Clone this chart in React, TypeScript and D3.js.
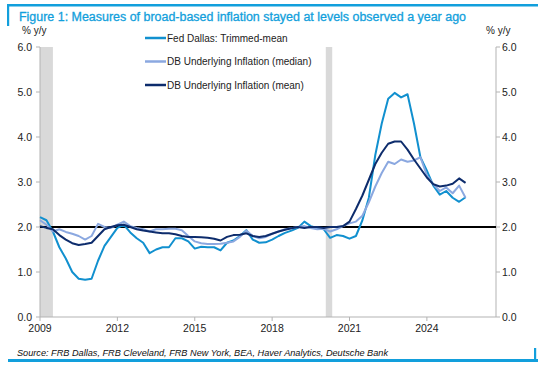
import React from 'react';
import * as d3 from 'd3';

// quarterly observation dates (decimal years)
const dates: number[] = d3.range(2009, 2025.51, 0.25);

// Fed Dallas trimmed-mean PCE, % y/y
const trimmedMean = [
  2.22, 2.15, 1.9, 1.55, 1.3, 1.0, 0.85, 0.83, 0.85, 1.25, 1.58, 1.78,
  1.98, 2.05, 1.88, 1.75, 1.65, 1.42, 1.5, 1.55, 1.55, 1.75, 1.75, 1.68,
  1.52, 1.56, 1.55, 1.55, 1.48, 1.65, 1.7, 1.8, 1.93, 1.72, 1.65, 1.66,
  1.72, 1.8, 1.87, 1.92, 1.98, 2.12, 2.02, 1.98, 1.95, 1.76, 1.82, 1.8,
  1.74, 1.8, 2.15, 2.65, 3.6, 4.3, 4.85, 4.98, 4.88, 4.95, 4.3, 3.55,
  3.25, 2.92, 2.72, 2.8, 2.65, 2.56, 2.66,
];

// DB underlying inflation (median)
const dbMedian = [
  2.15, 2.05, 1.9, 1.95, 1.89, 1.85, 1.8, 1.72, 1.8, 2.07, 2.0, 1.98,
  2.05, 2.12, 2.02, 1.98, 1.95, 1.9, 1.95, 1.95, 1.96, 1.96, 1.93, 1.8,
  1.68, 1.64, 1.62, 1.62, 1.63, 1.65, 1.68, 1.78, 1.92, 1.8, 1.75, 1.78,
  1.85, 1.9, 1.95, 1.97, 2.0, 2.02, 1.98, 1.95, 1.96, 1.9, 1.95, 2.02,
  2.08, 2.12, 2.25, 2.55, 2.9, 3.2, 3.45, 3.4, 3.5, 3.45, 3.48, 3.55,
  3.15, 2.95, 2.8, 2.88, 2.75, 2.92, 2.65,
];

// DB underlying inflation (mean)
const dbMean = [
  2.02, 1.98, 1.95, 1.82, 1.72, 1.64, 1.6, 1.62, 1.65, 1.8, 1.95, 2.0,
  2.04, 2.05, 2.0, 1.95, 1.92, 1.9, 1.88, 1.86, 1.86, 1.84, 1.8, 1.78,
  1.78, 1.77, 1.76, 1.74, 1.7, 1.78, 1.82, 1.83, 1.86, 1.8, 1.78, 1.8,
  1.85, 1.9, 1.94, 1.97, 2.0, 1.98, 2.0, 2.0, 1.98, 2.0, 2.0, 2.02,
  2.12, 2.4, 2.7, 3.05, 3.4, 3.65, 3.85, 3.9, 3.9, 3.72, 3.5, 3.3,
  3.1, 2.95, 2.9, 2.92, 2.96, 3.08, 2.98,
];

const series = [
  { name: 'Fed Dallas: Trimmed-mean', values: trimmedMean, color: '#1190cf' },
  { name: 'DB Underlying Inflation (median)', values: dbMedian, color: '#8ba8e0' },
  { name: 'DB Underlying Inflation (mean)', values: dbMean, color: '#0d2c6c' },
];

const recessions: [number, number][] = [
  [2009.0, 2009.5],
  [2020.08, 2020.33],
];

const yTicks = [0, 1, 2, 3, 4, 5, 6];
const xTicks = [2009, 2012, 2015, 2018, 2021, 2024];

const title = 'Figure 1: Measures of broad-based inflation stayed at levels observed a year ago';
const source = 'Source: FRB Dallas, FRB Cleveland, FRB New York, BEA, Haver Analytics, Deutsche Bank';

const W = 538;
const H = 365;
const font = 'Liberation Sans, Arial, sans-serif';

export default function App() {
  const left = 40;
  const right = 496;
  const top = 47;
  const bottom = 317;

  const x = d3.scaleLinear().domain([2009, 2026.68]).range([left, right]);
  const y = d3.scaleLinear().domain([0, 6]).range([bottom, top]);

  const line = d3
    .line<number>()
    .x((_, i) => x(dates[i]))
    .y((d) => y(d));

  const blue = '#129fdc';

  return (
    <svg
      width={W}
      height={H}
      style={{ position: 'absolute', left: 0, top: 0, background: '#fff' }}
      fontFamily={font}
    >
      {/* frame accents */}
      <rect x={7} y={4} width={W - 7} height={2.5} fill={blue} />
      <rect x={7} y={4} width={2.2} height={22} fill={blue} />
      <rect x={8} y={359} width={W - 8} height={3} fill={blue} />
      <rect x={534} y={348} width={2.2} height={14} fill={blue} />

      <text
        x={19}
        y={21}
        fontSize={12}
        fill={blue}
        stroke={blue}
        strokeWidth={0.3}
        textLength={447}
        lengthAdjust="spacingAndGlyphs"
      >
        {title}
      </text>

      <text x={22} y={34} fontSize={10} fill="#222">% y/y</text>
      <text x={486} y={34} fontSize={10} fill="#222">% y/y</text>

      {/* recession shading */}
      {recessions.map(([a, b], i) => (
        <rect key={i} x={x(a)} y={y(6)} width={x(b) - x(a)} height={y(0) - y(6)} fill="#d9d9d9" />
      ))}

      {/* axes */}
      <line x1={left} x2={left} y1={y(6)} y2={y(0)} stroke="#b3b3b3" />
      <line x1={right} x2={right} y1={y(6)} y2={y(0)} stroke="#b3b3b3" />
      <line x1={left} x2={right} y1={y(0)} y2={y(0)} stroke="#b3b3b3" />
      {yTicks.map((t) => (
        <g key={t}>
          <line x1={left - 4} x2={left} y1={y(t)} y2={y(t)} stroke="#b3b3b3" />
          <line x1={right} x2={right + 4} y1={y(t)} y2={y(t)} stroke="#b3b3b3" />
          <text x={32} y={y(t) + 3.6} fontSize={10.5} textAnchor="end" fill="#222">
            {t.toFixed(1)}
          </text>
          <text x={502} y={y(t) + 3.6} fontSize={10.5} fill="#222">
            {t.toFixed(1)}
          </text>
        </g>
      ))}
      {xTicks.map((t) => (
        <g key={t}>
          <line x1={x(t)} x2={x(t)} y1={y(0)} y2={y(0) + 4} stroke="#b3b3b3" />
          <text x={x(t)} y={332} fontSize={10.5} textAnchor="middle" fill="#222">
            {t}
          </text>
        </g>
      ))}

      {/* 2% reference */}
      <line x1={left} x2={right} y1={y(2)} y2={y(2)} stroke="#000" strokeWidth={2} />

      {/* series */}
      {series.map((s) => (
        <path key={s.name} d={line(s.values) || ''} fill="none" stroke={s.color} strokeWidth={2} strokeLinejoin="round" />
      ))}

      {/* legend */}
      {series.map((s, i) => (
        <g key={s.name} transform={`translate(145, ${38 + i * 23.5})`}>
          <line x1={0} x2={21} y1={0} y2={0} stroke={s.color} strokeWidth={2.5} />
          <text x={22} y={3.5} fontSize={10} fill="#222">
            {s.name}
          </text>
        </g>
      ))}

      <text x={17} y={356} fontSize={9.5} fontStyle="italic" fill="#111" textLength={371} lengthAdjust="spacingAndGlyphs">
        {source}
      </text>
    </svg>
  );
}
